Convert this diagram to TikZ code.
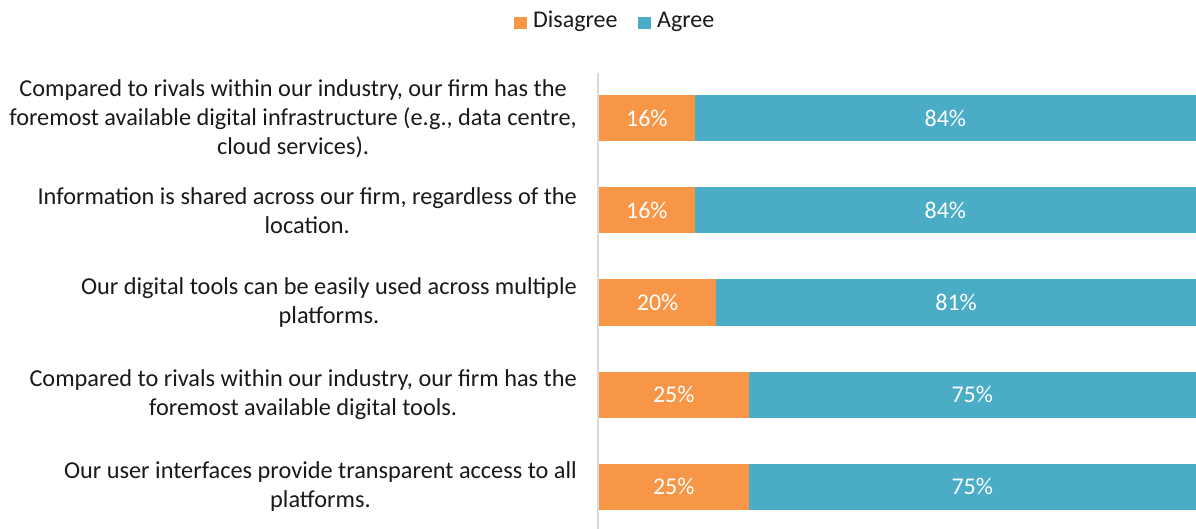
\documentclass[tikz,border=0pt]{standalone}
\usepackage{fontspec}
\setmainfont{Carlito}
\definecolor{dis}{HTML}{F79646}
\definecolor{agr}{HTML}{4BACC6}
\definecolor{axisgray}{HTML}{D9D9D9}
\begin{document}
\begin{tikzpicture}[x=1pt,y=-1pt,
  lab/.style={anchor=east,align=center,font=\fontsize{24.3}{29}\selectfont,inner sep=0pt,text=black!90},
  barseg/.style={anchor=west,minimum height=46pt,inner sep=0pt,outer sep=0pt,text=white,font=\fontsize{24}{29}\selectfont},
  legsq/.style={minimum width=13pt,minimum height=12pt,inner sep=0pt,anchor=north west},
  legtxt/.style={anchor=base west,inner sep=0pt,font=\fontsize{24}{29}\selectfont,text=black!90}]
\useasboundingbox (0,0) rectangle (1196,529);
% legend
\node[legsq,fill=dis] (ls1) at (514,16.5) {};
\node[legtxt] (lt1) at (533,28) {Disagree};
\node[legsq,fill=agr] (ls2) at (638,16.5) {};
\node[legtxt] (lt2) at (657,28) {Agree};
% axis
\coordinate (axtop) at (598,73);
\coordinate (axbot) at (598,529);
\draw[axisgray,line width=1.5pt] (axtop) -- (axbot);
% rows
\foreach \i/\d/\dl/\al/\txt in {
 0/16/16/84/{Compared to rivals within our industry, our firm has the\\foremost available digital infrastructure (e.g., data centre,\\cloud services).},
 1/16/16/84/{Information is shared across our firm, regardless of the\\location.},
 2/19.6/20/81/{Our digital tools can be easily used across multiple\\platforms.},
 3/25/25/75/{Compared to rivals within our industry, our firm has the\\foremost available digital tools.},
 4/25/25/75/{Our user interfaces provide transparent access to all\\platforms.}}
{
  \pgfmathsetmacro{\yc}{118.5+92*\i}
  \pgfmathsetmacro{\dw}{5.98*\d}
  \pgfmathsetmacro{\aw}{1196-599-\dw}
  \node[lab] (l\i) at (577,\yc) {\txt};
  \node[barseg,fill=dis,minimum width=\dw pt] (d\i) at (599,\yc) {\dl\%};
  \node[barseg,fill=agr,minimum width=\aw pt,anchor=west] (a\i) at (d\i.east) {\al\%};
}
\end{tikzpicture}
\end{document}
